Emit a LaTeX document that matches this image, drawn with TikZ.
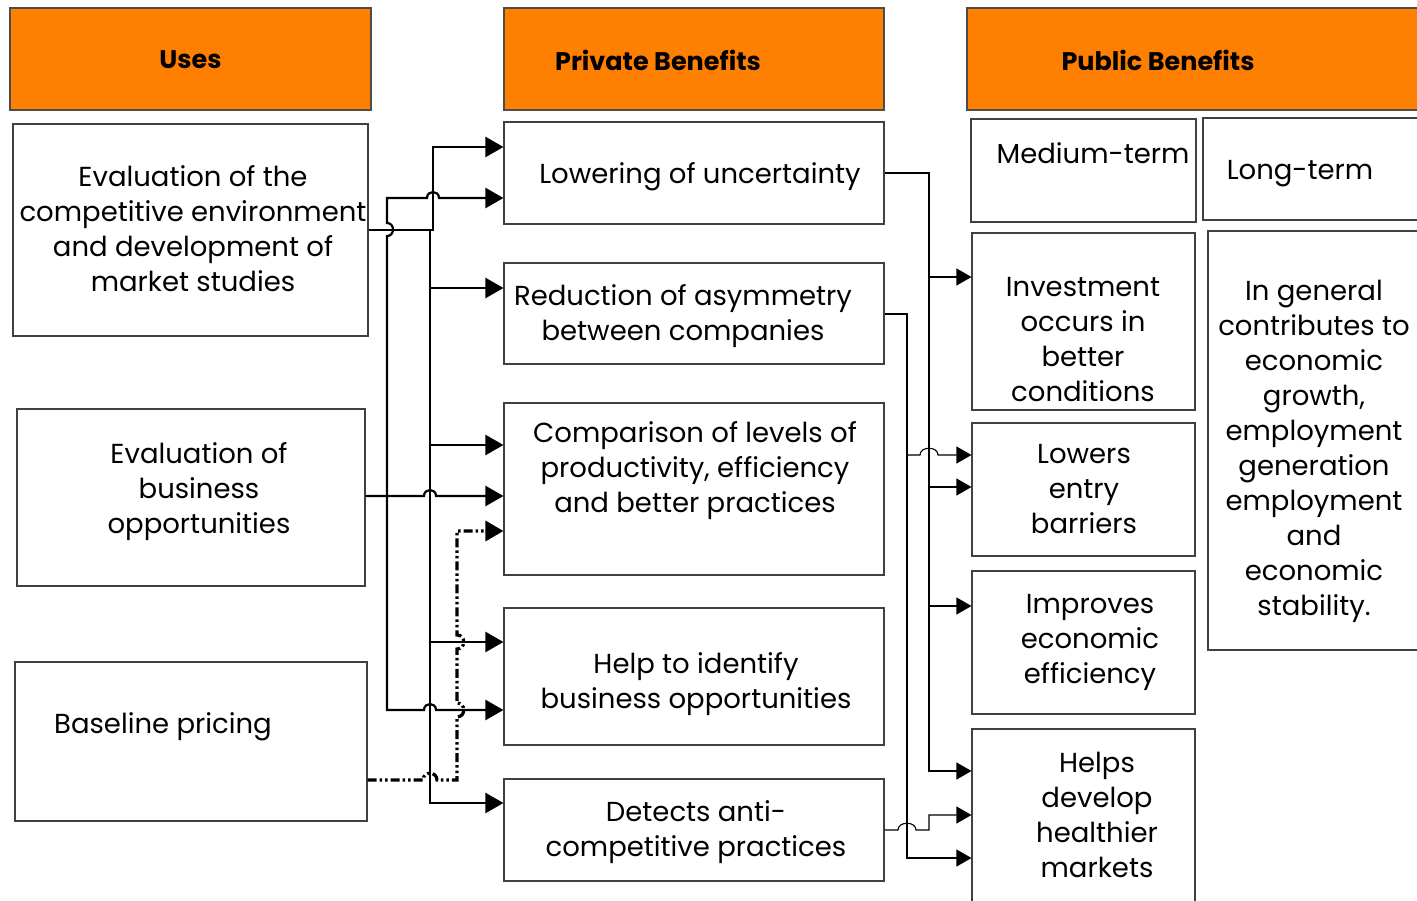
\documentclass[tikz,border=0pt]{standalone}
\usepackage{fontspec}
\setmainfont{Poppins}
\usetikzlibrary{arrows.meta}
\definecolor{hdr}{HTML}{FF7F00}
\begin{document}
\begin{tikzpicture}[x=1pt,y=-1pt,
 box/.style={draw=black!75, line width=1.1pt, fill=white, inner sep=0pt},
 hdrbox/.style={draw=black!70, line width=1.1pt, fill=hdr, inner sep=0pt},
 hdrtxt/.style={font=\bfseries\fontsize{25.5}{30}\selectfont, inner sep=0pt, yshift=-1pt},
 txt/.style={align=center, inner sep=0pt, font=\fontsize{27.5}{35}\selectfont, yshift=-3.5pt},
 lc/.style={line width=2.2pt, -{Triangle[length=18pt,width=20pt]}},
 rc/.style={line width=1.1pt, -{Triangle[length=15pt,width=17pt]}},
 dd/.style={line width=3.2pt, dash pattern=on 9pt off 3pt on 2.5pt off 3pt on 2.5pt off 3pt, -{Triangle[length=18pt,width=20pt]}}]
\useasboundingbox (0,0) rectangle (1417,901);
\clip (0,0) rectangle (1417,901);
% headers
\node[hdrbox, minimum width=361pt, minimum height=102pt] (hu) at (190.5,59) {};
\node[hdrtxt] (hut) at (190.5,59) {Uses};
\node[hdrbox, minimum width=380pt, minimum height=102pt] (hp) at (694,59) {};
\node[hdrtxt] (hpt) at (658,59) {Private Benefits};
\node[hdrbox, minimum width=473pt, minimum height=102pt] (hb) at (1203.5,59) {};
\node[hdrtxt] (hbt) at (1158,59) {Public Benefits};
% uses
\node[box, minimum width=355pt, minimum height=212pt] (e1) at (190.5,230) {};
\node[txt] (e1t) at (193,225.5) {Evaluation of the\\competitive environment\\and development of\\market studies};
\node[box, minimum width=348pt, minimum height=177pt] (e2) at (191,497.5) {};
\node[txt] (e2t) at (199,488) {Evaluation of\\business\\opportunities};
\node[box, minimum width=352pt, minimum height=159pt] (e3) at (191,741.5) {};
\node[txt] (e3t) at (163,723) {Baseline pricing};
% private
\node[box, minimum width=380pt, minimum height=102pt] (p1) at (694,173) {};
\node[txt] (p1t) at (700,173) {Lowering of uncertainty};
\node[box, minimum width=380pt, minimum height=101pt] (p2) at (694,313.5) {};
\node[txt] (p2t) at (683,312.5) {Reduction of asymmetry\\between companies};
\node[box, minimum width=380pt, minimum height=172pt] (p3) at (694,489) {};
\node[txt] (p3t) at (695,467.5) {Comparison of levels of\\productivity, efficiency\\and better practices};
\node[box, minimum width=380pt, minimum height=137pt] (p4) at (694,676.5) {};
\node[txt] (p4t) at (696,680.5) {Help to identify\\business opportunities};
\node[box, minimum width=380pt, minimum height=102pt] (p5) at (694,830) {};
\node[txt] (p5t) at (696,828.5) {Detects anti-\\competitive practices};
% public
\node[box, minimum width=225pt, minimum height=103pt] (mt) at (1083.5,170.5) {};
\node[txt] (mtt) at (1093,150) {Medium-term};
\node[box, minimum width=237pt, minimum height=102pt] (lt) at (1321.5,169) {};
\node[txt] (ltt) at (1300,170) {Long-term};
\node[box, minimum width=223pt, minimum height=177pt] (inv) at (1083.5,321.5) {};
\node[txt] (invt) at (1083,336.5) {Investment\\occurs in\\better\\conditions};
\node[box, minimum width=223pt, minimum height=133pt] (low) at (1083.5,489.5) {};
\node[txt] (lowt) at (1084,486) {Lowers\\entry\\barriers};
\node[box, minimum width=223pt, minimum height=143pt] (imp) at (1083.5,642.5) {};
\node[txt] (impt) at (1090,639) {Improves\\economic\\efficiency};
\node[box, minimum width=223pt, minimum height=211pt] (hl) at (1083.5,834.5) {};
\node[txt] (hlt) at (1097,811.5) {Helps\\develop\\healthier\\markets};
\node[box, minimum width=232pt, minimum height=419pt] (gen) at (1324,440.5) {};
\node[txt] (gent) at (1314,447.5) {In general\\contributes to\\economic\\growth,\\employment\\generation\\employment\\and\\economic\\stability.};
% left connectors
\coordinate (tr) at (430,230);
\draw[lc] (e1.east) -- (433,230) -- (433,147) -- (p1.west |- 0,147);
\draw[lc] (tr) |- (p5.west |- 0,803);
\draw[lc] (430,288) -- (p2.west |- 0,288);
\draw[lc] (430,445) -- (p3.west |- 0,445);
\draw[lc] (430,642) -- (p4.west |- 0,642);
\draw[lc] (e2.east |- 0,496) -- (424,496) .. controls (424,488) and (436,488) .. (436,496) -- (p3.west |- 0,496);
\draw[lc] (387,496) -- (387,236) .. controls (395,236) and (395,223) .. (387,223) -- (387,198) -- (427,198) .. controls (427,190) and (439,190) .. (439,198) -- (p1.west |- 0,198);
\draw[lc] (387,496) -- (387,710) -- (424,710) .. controls (424,702) and (436,702) .. (436,710) -- (p4.west |- 0,710);
\draw[dd] (e3.east |- 0,780) -- (423,780) .. controls (423,771) and (437,771) .. (437,780) -- (457,780) -- (457,717) .. controls (466,717) and (466,703) .. (457,703) -- (457,649) .. controls (466,649) and (466,635) .. (457,635) -- (457,531) -- (p3.west |- 0,531);
% right connectors
\draw[rc] (p1.east) -- (929,173) -- (929,771) -- (hl.west |- 0,771);
\draw[rc] (929,277) -- (inv.west |- 0,277);
\draw[rc] (929,487) -- (low.west |- 0,487);
\draw[rc] (929,606) -- (imp.west |- 0,606);
\draw[rc] (p2.east |- 0,314) -- (907,314) -- (907,858) -- (hl.west |- 0,858);
\draw[rc] (907,455) -- (920,455) .. controls (920,446) and (938,446) .. (938,455) -- (low.west |- 0,455);
\draw[rc] (p5.east |- 0,830) -- (898,830) .. controls (898,821) and (916,821) .. (916,830) -- (929,830) -- (929,815) -- (hl.west |- 0,815);
\end{tikzpicture}
\end{document}
